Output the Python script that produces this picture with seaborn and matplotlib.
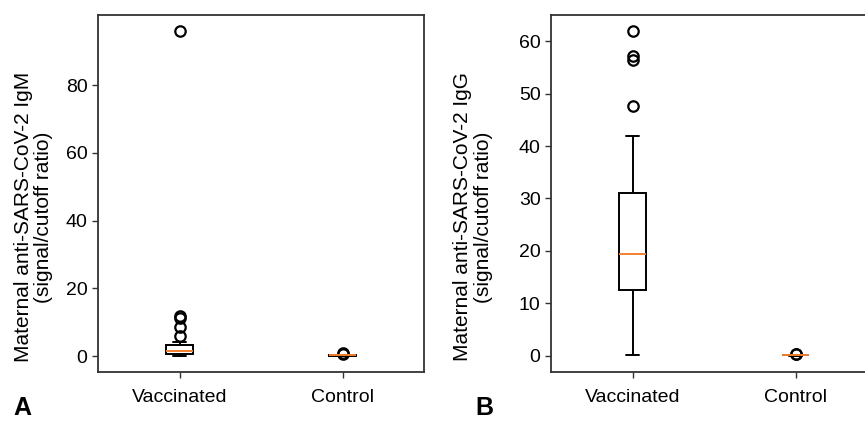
import matplotlib
matplotlib.use("Agg")
import matplotlib.pyplot as plt
import pandas as pd
import seaborn as sns

# Group labels
GROUPS = ["Vaccinated", "Control"]

# Maternal IgM (signal/cutoff ratio)
IGM_VACCINATED = [0.1, 0.2, 0.3, 0.4, 0.5, 0.55, 0.6, 0.7, 0.8, 0.9, 1.0, 1.2, 1.3,
                  1.5, 1.7, 1.9, 2.2, 2.5, 2.9, 3.4, 4.1, 5.9, 8.7, 11.2, 11.8, 95.9]
IGM_CONTROL = [0.1, 0.1, 0.15, 0.15, 0.2, 0.2, 0.2, 0.25, 0.6, 0.9]

# Maternal IgG (signal/cutoff ratio)
IGG_VACCINATED = [0.2, 3.5, 6.8, 8.9, 10.1, 11.6, 12.6, 14.2, 15.8, 17.0, 18.1, 18.9, 19.5,
                  21.3, 23.5, 25.4, 27.2, 29.6, 31.0, 34.8, 42.0, 47.7, 56.5, 57.2, 61.9]
IGG_CONTROL = [0.0, 0.0, 0.05, 0.05, 0.1, 0.1, 0.1, 0.15, 0.3, 0.4]

YLABELS = ["Maternal anti-SARS-CoV-2 IgM\n(signal/cutoff ratio)",
           "Maternal anti-SARS-CoV-2 IgG\n(signal/cutoff ratio)"]
PANEL_TAGS = ["A", "B"]


def long_frame(vacc, ctrl):
    return pd.DataFrame({
        "group": [GROUPS[0]] * len(vacc) + [GROUPS[1]] * len(ctrl),
        "value": list(vacc) + list(ctrl),
    })


sns.set_style("ticks")
plt.rcParams["font.family"] = ["Liberation Sans", "DejaVu Sans"]
plt.rcParams["font.size"] = 14
for key in ["text.color", "axes.labelcolor", "xtick.labelcolor", "ytick.labelcolor"]:
    plt.rcParams[key] = "black"

fig = plt.figure(figsize=(8.65, 4.29), dpi=100)
ax_a = fig.add_axes([0.1133, 0.1329, 0.3769, 0.8322])
ax_b = fig.add_axes([0.637, 0.1329, 0.3769, 0.8322])

panels = [(ax_a, long_frame(IGM_VACCINATED, IGM_CONTROL), -0.138),
          (ax_b, long_frame(IGG_VACCINATED, IGG_CONTROL), -0.178)]

for i, (ax, df, lab_x) in enumerate(panels):
    sns.boxplot(data=df, x="group", y="value", order=GROUPS, ax=ax,
                width=0.16, whis=0.75, fill=True, color="white",
                linecolor="black", linewidth=1.4,
                medianprops={"color": "#f28030", "linewidth": 1.4},
                flierprops={"marker": "o", "markerfacecolor": "none",
                            "markeredgecolor": "black", "markersize": 7.5,
                            "markeredgewidth": 1.6})
    ax.set_xlim(-0.5, 1.5)
    ax.set_xlabel("")
    ax.set_ylabel(YLABELS[i], fontsize=15, linespacing=1.1)
    ax.yaxis.set_label_coords(lab_x, 0.434)
    ax.tick_params(axis="both", labelsize=14, length=4, width=1,
                   color="#333333", direction="out")
    ax.tick_params(axis="x", pad=8.5)
    for sp in ax.spines.values():
        sp.set_visible(True)
        sp.set_linewidth(1.3)
        sp.set_color("#333333")

ax_a.set_yticks([0, 20, 40, 60, 80])
ax_b.set_yticks([0, 10, 20, 30, 40, 50, 60])

fig.text(22 / 865, 1 - 408 / 429, PANEL_TAGS[0], fontsize=18, fontweight="bold",
         ha="center", va="center")
fig.text(484 / 865, 1 - 408 / 429, PANEL_TAGS[1], fontsize=18, fontweight="bold",
         ha="center", va="center")

fig.savefig("out.png", dpi=100)
